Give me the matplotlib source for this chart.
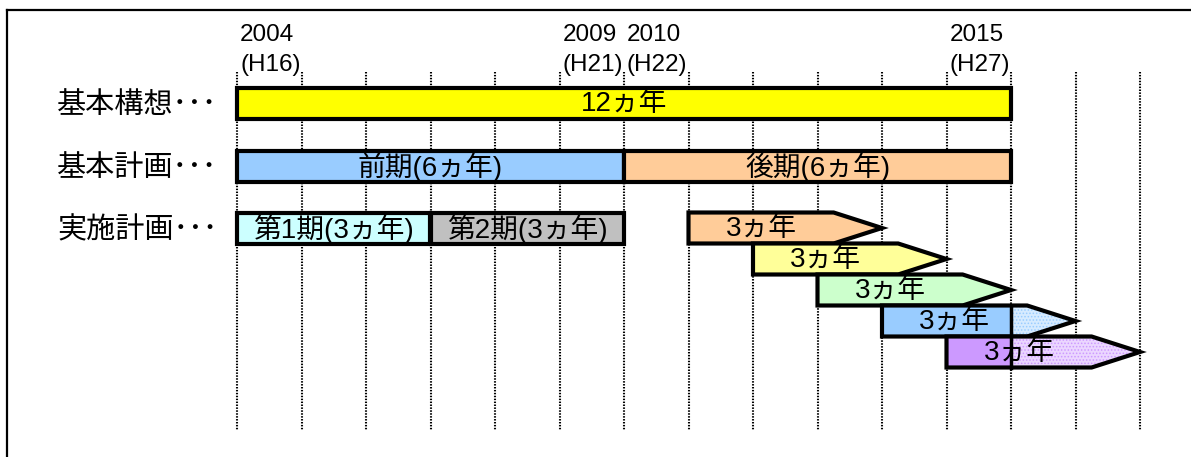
import matplotlib
matplotlib.use("Agg")
import matplotlib.pyplot as plt
from matplotlib.patches import Polygon, Rectangle
from matplotlib.lines import Line2D

plt.rcParams['font.family'] = ['Liberation Sans', 'Noto Sans CJK JP', 'DejaVu Sans']
plt.rcParams['hatch.linewidth'] = 0.7

# ---------------- data ----------------
first_year = 2004
last_year = 2018
year_labels = [(2004, 'H16'), (2009, 'H21'), (2010, 'H22'), (2015, 'H27')]

row_labels = ['基本構想･･･', '基本計画･･･', '実施計画･･･']

concept_bars = [(2004, 2016, '12ヵ年', '#FFFF00')]
basic_bars = [(2004, 2010, '前期(6ヵ年)', '#99CCFF'),
              (2010, 2016, '後期(6ヵ年)', '#FFCC99')]
impl_bars = [(2004, 2007, '第1期(3ヵ年)', '#CCFFFF'),
             (2007, 2010, '第2期(3ヵ年)', '#C0C0C0')]

arrow_starts = [2011, 2012, 2013, 2014, 2015]
arrow_len = 3
arrow_text = '3ヵ年'
arrow_colors = ['#FFCC99', '#FFFF99', '#CCFFCC', '#99CCFF', '#CC99FF']
arrow_pale = [None, None, None, '#D6EBFF', '#EBD6FF']
split_year = 2016   # after this the arrow is drawn as dotted

# ---------------- layout (pixels) ----------------
W, H = 1191, 457
px_year0 = 237
px_per_year = 64.5
bar_h = 31
row_y = [103, 166, 228]
arrow_y0 = 228
tip = 0.75

fig = plt.figure(figsize=(W / 100, H / 100), dpi=100)
ax = fig.add_axes([0, 0, 1, 1])
ax.set_xlim(first_year - px_year0 / px_per_year, first_year + (W - px_year0) / px_per_year)
ax.set_ylim(H, 0)
ax.axis('off')

# frame (left + top visible)
fig.add_artist(Line2D([7 / W, 7 / W], [0, 1 - 10 / H], color='black', lw=1.6))
fig.add_artist(Line2D([7 / W, 1], [1 - 10 / H, 1 - 10 / H], color='black', lw=1.6))

# dotted year lines
years = list(range(first_year, last_year + 1))
ax.vlines(years, 72, 430, colors='black', lw=1.5, linestyles=(0, (0.7, 0.7)), zorder=0)

# year labels
for yr, h in year_labels:
    xt = yr + 3 / px_per_year
    ax.text(xt, 35, str(yr), ha='left', va='center', fontsize=17.5)
    ax.text(xt, 65, '(' + h + ')', ha='left', va='center', fontsize=17.5)

# row labels
for i, lab in enumerate(row_labels):
    ax.text(57 / px_per_year + ax.get_xlim()[0], row_y[i] + 2, lab, ha='left', va='center',
            fontsize=21, family=['Noto Sans CJK JP', 'DejaVu Sans'])


def draw_bars(bars, yc, z):
    for s, e, lab, col in bars:
        ax.add_patch(Rectangle((s, yc - bar_h / 2), e - s, bar_h, facecolor=col,
                               edgecolor='black', lw=3.0, zorder=z))
        ax.text((s + e) / 2, yc + 1, lab, ha='center', va='center', fontsize=20, zorder=20)


draw_bars(concept_bars, row_y[0], 2)
draw_bars(basic_bars, row_y[1], 2)
draw_bars(impl_bars, row_y[2], 2)


def arrow_pts(s, e, yc):
    top, bot = yc - bar_h / 2, yc + bar_h / 2
    return [(s, top), (e - tip, top), (e, yc), (e - tip, bot), (s, bot)]


for i, s in enumerate(arrow_starts):
    e = s + arrow_len
    yc = arrow_y0 + i * bar_h
    z = 3 + i
    ax.add_patch(Polygon(arrow_pts(s, e, yc), closed=True, facecolor=arrow_colors[i],
                         edgecolor='none', zorder=z))
    if arrow_pale[i] is not None and e > split_year:
        ax.add_patch(Polygon(arrow_pts(split_year, e, yc), closed=True,
                             facecolor=arrow_pale[i], edgecolor=arrow_colors[i],
                             hatch='.....', lw=0, zorder=z))
        ax.plot([split_year, split_year], [yc - bar_h / 2, yc + bar_h / 2],
                color='black', lw=2.5, zorder=z)
    ax.add_patch(Polygon(arrow_pts(s, e, yc), closed=True, fill=False,
                         edgecolor='black', lw=3.0, joinstyle='miter', zorder=z))
    ax.text((s + e - tip) / 2, yc + 1, arrow_text, ha='center', va='center',
            fontsize=20, zorder=20)

fig.savefig('out.png', dpi=100)
